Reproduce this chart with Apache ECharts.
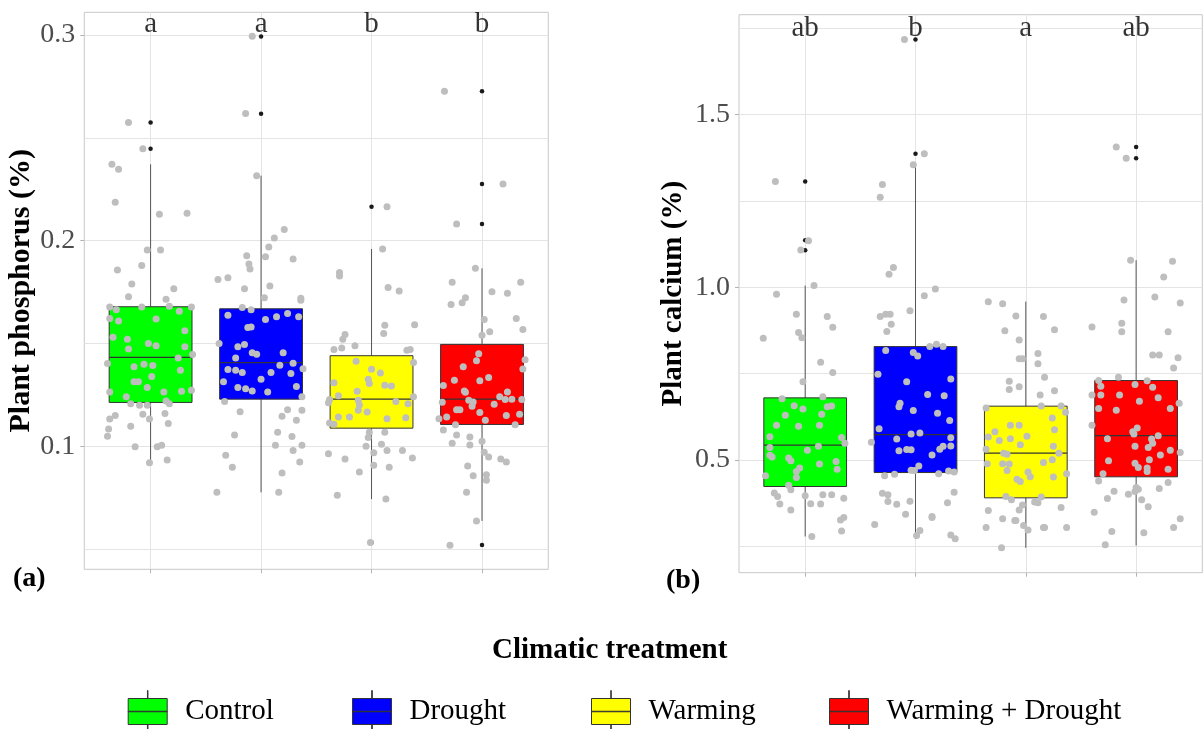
<!DOCTYPE html>
<html>
<head>
<meta charset="utf-8">
<script src="https://cdn.jsdelivr.net/npm/echarts@6/dist/echarts.min.js"></script>
<style>
html, body { margin: 0; padding: 0; background: #fff; }
#chart { width: 1204px; height: 729px; }
</style>
</head>
<body>
<div id="chart"></div>
<script>
var treatments = ['Control', 'Drought', 'Warming', 'Warming + Drought'];
var boxColors = ['#00ff00', '#0000ff', '#ffff00', '#ff0000'];

// [lower whisker, Q1, median, Q3, upper whisker]
var pBoxStats = [
    [0.0921, 0.1214, 0.1433, 0.1679, 0.2371],
    [0.0777, 0.1230, 0.1407, 0.1669, 0.2316],
    [0.0744, 0.1089, 0.1230, 0.1441, 0.1960],
    [0.0638, 0.1107, 0.1230, 0.1496, 0.1866]
];
var caBoxStats = [
    [0.2779, 0.4227, 0.5425, 0.6795, 1.0048],
    [0.2710, 0.4632, 0.5733, 0.8281, 1.3523],
    [0.2450, 0.3899, 0.5194, 0.6555, 0.9585],
    [0.2518, 0.4508, 0.5704, 0.7297, 1.0783]
];
var pOutliers = [[0.2574, 0.2447], [0.2992, 0.2617], [0.2165, 0.0533], [0.2726, 0.2276, 0.2081, 0.0521]];
var caOutliers = [[1.306, 1.136, 1.107], [1.387, 1.718], [], [1.4065, 1.3737]];
var pLetters = ['a', 'a', 'b', 'b'];
var caLetters = ['ab', 'b', 'a', 'ab'];
var pLetterY = 0.3052;
var caLetterY = 1.750;

var pTickLabels = [0.1, 0.2, 0.3];
var pGridLines = [0.05, 0.1, 0.15, 0.2, 0.25, 0.3];
var caTickLabels = [0.5, 1.0, 1.5];
var caGridLines = [0.25, 0.5, 0.75, 1.0, 1.25, 1.5, 1.75];

// jittered raw points: [horizontal jitter, value]
var pCtrlPts = [[-0.20,0.2574],[-0.07,0.2447],[-0.35,0.2371],[-0.29,0.2347],[-0.32,0.2187],[0.08,0.2128],[0.33,0.2133],[-0.03,0.1955],[0.09,0.1955],[-0.30,0.1858],[-0.08,0.1880],[-0.17,0.1789],[-0.20,0.1728],[0.21,0.1767],[0.14,0.1715],
    [-0.37,0.1678],[-0.31,0.1665],[-0.08,0.1678],[0.17,0.1681],[0.26,0.1657],[0.37,0.1678],[-0.37,0.1622],[-0.29,0.1610],[0.05,0.1620],[0.31,0.1562],[-0.34,0.1531],[-0.21,0.1521],[-0.02,0.1500],[0.05,0.1489],[-0.20,0.1474],[0.31,0.1484],[-0.39,0.1403],[0.38,0.1447],[0.25,0.1430],[-0.15,0.1387],[-0.06,0.1400],[0.02,0.1393],[0.27,0.1370],[0.01,0.1340],[-0.15,0.1314],[-0.11,0.1314],[-0.03,0.1286],[-0.37,0.1265],[0.12,0.1265],[0.28,0.1268],[0.37,0.1273],[-0.22,0.1241],[0.14,0.1221],[-0.18,0.1207],[-0.10,0.1200],[-0.03,0.1200],[0.17,0.1208],[-0.07,0.1156],[0.13,0.1160],[-0.37,0.1134],[-0.32,0.1150],[-0.01,0.1134],[0.16,0.1111],[-0.18,0.1098],[-0.38,0.1085],[-0.39,0.1050],[-0.14,0.0998],[0.06,0.0998],[0.10,0.1006],[-0.01,0.0921],[0.15,0.0934]];
var pDrPts = [[-0.08,0.2994],[-0.14,0.2618],[-0.04,0.2316],[0.21,0.2054],[0.12,0.2013],[0.07,0.1969],[-0.13,0.1927],[0.04,0.1922],[0.29,0.1911],[-0.11,0.1887],[-0.10,0.1862],[-0.39,0.1811],[-0.30,0.1820],[-0.15,0.1767],[0.08,0.1780],[0.03,0.1723],[0.36,0.1720],
    [-0.17,0.1675],[-0.09,0.1665],[-0.30,0.1638],[0.04,0.1617],[0.14,0.1630],[0.24,0.1646],[0.34,0.1630],[0.36,0.1711],[-0.12,0.1578],[-0.09,0.1581],[-0.38,0.1500],[-0.21,0.1484],[-0.15,0.1495],[-0.08,0.1455],[-0.04,0.1448],[0.20,0.1455],[-0.23,0.1430],[0.17,0.1395],[0.29,0.1404],[-0.30,0.1374],[-0.23,0.1370],[-0.17,0.1359],[0.09,0.1359],[0.27,0.1354],[0.38,0.1378],[0.00,0.1327],[-0.34,0.1314],[-0.21,0.1286],[-0.14,0.1281],[-0.08,0.1270],[0.06,0.1265],[0.32,0.1291],[0.37,0.1241],[-0.33,0.1218],[-0.19,0.1169],[0.24,0.1179],[0.37,0.1176],[0.19,0.1147],[0.32,0.1127],[0.15,0.1069],[0.28,0.1048],[-0.24,0.1056],[0.13,0.1006],[0.37,0.1006],[0.29,0.0980],[-0.32,0.0957],[0.35,0.0925],[-0.26,0.0899],[0.19,0.0871],[-0.40,0.0777],[0.16,0.0777]];
var pWaPts = [[0.14,0.2165],[0.10,0.1960],[-0.29,0.1846],[-0.29,0.1828],[0.15,0.1772],[0.25,0.1755],
    [0.12,0.1589],[0.11,0.1549],[0.39,0.1592],[-0.24,0.1544],[-0.26,0.1521],[-0.15,0.1490],[-0.34,0.1471],[-0.27,0.1479],[0.32,0.1468],[0.35,0.1471],[0.38,0.1408],[-0.14,0.1414],[0.00,0.1375],[0.08,0.1357],[-0.34,0.1310],[-0.03,0.1327],[-0.02,0.1306],[0.12,0.1297],[0.18,0.1294],[-0.30,0.1246],[-0.13,0.1268],[-0.38,0.1228],[-0.39,0.1213],[-0.12,0.1225],[-0.11,0.1202],[0.22,0.1218],[0.33,0.1208],[0.38,0.1241],[-0.12,0.1176],[-0.04,0.1168],[-0.30,0.1143],[-0.20,0.1143],[0.14,0.1135],[0.31,0.1139],[-0.38,0.1114],[-0.34,0.1108],[-0.02,0.1069],[0.12,0.1069],[-0.03,0.1043],[0.09,0.1011],[-0.05,0.1001],[0.28,0.0980],[0.02,0.0970],[0.14,0.0980],[-0.39,0.0965],[0.37,0.0944],[-0.24,0.0939],[0.02,0.0909],[0.16,0.0899],[-0.11,0.0876],[-0.31,0.0763],[0.13,0.0745],[-0.01,0.0533]];
var pWdPts = [[-0.34,0.2726],[0.19,0.2276],[-0.23,0.2081],[-0.06,0.1866],[-0.27,0.1798],[0.09,0.1752],[0.23,0.1744],[0.35,0.1798],[-0.15,0.1723],
    [-0.28,0.1690],[-0.18,0.1699],[0.02,0.1617],[0.31,0.1622],[0.07,0.1557],[0.00,0.1541],[0.37,0.1568],[-0.03,0.1451],[-0.05,0.1416],[0.39,0.1422],[-0.17,0.1387],[0.37,0.1377],[-0.25,0.1322],[-0.02,0.1319],[0.06,0.1335],[-0.35,0.1296],[-0.16,0.1270],[-0.15,0.1263],[0.23,0.1265],[0.16,0.1241],[0.21,0.1228],[0.27,0.1229],[0.36,0.1228],[-0.12,0.1225],[-0.08,0.1216],[-0.36,0.1215],[-0.09,0.1195],[0.11,0.1205],[-0.23,0.1178],[-0.20,0.1178],[-0.02,0.1165],[0.22,0.1150],[0.34,0.1156],[-0.39,0.1135],[-0.32,0.1143],[0.03,0.1127],[-0.24,0.1106],[0.30,0.1106],[-0.35,0.1080],[-0.23,0.1056],[-0.11,0.1046],[-0.11,0.1007],[-0.27,0.1015],[0.00,0.1025],[0.02,0.0972],[0.06,0.0949],[0.17,0.0939],[0.22,0.0925],[-0.13,0.0905],[-0.08,0.0858],[0.04,0.0863],[0.04,0.0836],[-0.14,0.0777],[-0.05,0.0638],[-0.29,0.0520]];

var caCtrlPts = [[-0.27,1.306],[0.03,1.135],[-0.04,1.108],[0.08,1.005],[-0.26,0.980],[-0.08,0.922],[0.20,0.915],[-0.38,0.852],[-0.06,0.869],[-0.03,0.854],[0.25,0.884],[0.14,0.783],[0.25,0.753],[-0.02,0.726],[-0.21,0.677],[0.16,0.683],[-0.10,0.657],[-0.02,0.647],[0.20,0.654],[0.24,0.656],[-0.18,0.629],[0.15,0.632],[-0.26,0.600],[-0.06,0.597],[0.13,0.600],[-0.32,0.567],[0.33,0.565],[0.36,0.548],[-0.32,0.536],[0.12,0.539],[0.02,0.528],[-0.32,0.513],[-0.30,0.508],[-0.15,0.505],[0.28,0.495],[0.13,0.488],[-0.05,0.476],[-0.13,0.497],[-0.08,0.466],[0.29,0.473],[-0.36,0.454],[-0.08,0.449],[-0.15,0.426],[-0.28,0.404],[-0.25,0.394],[-0.13,0.413],[0.00,0.396],[0.16,0.399],[0.24,0.399],[0.35,0.389],[-0.23,0.372],[0.05,0.373],[0.14,0.372],[-0.13,0.355],[0.32,0.326],[0.35,0.333],[0.33,0.294],[0.06,0.278]];
var caDrPts = [[-0.10,1.718],[0.08,1.387],[-0.02,1.355],[-0.30,1.298],[-0.32,1.261],[-0.20,1.057],[-0.24,1.038],[0.18,0.995],[0.08,0.975],[-0.05,0.932],[-0.32,0.915],[-0.27,0.922],[-0.23,0.922],[-0.22,0.893],[-0.26,0.872],[-0.27,0.817],[0.13,0.828],[0.19,0.835],[0.25,0.828],[-0.02,0.811],[0.02,0.801],[-0.34,0.748],[0.32,0.734],[-0.08,0.726],[0.11,0.689],[0.26,0.686],[-0.14,0.664],[-0.15,0.654],[-0.02,0.643],[0.20,0.635],[0.31,0.614],[-0.33,0.590],[0.04,0.578],[-0.04,0.575],[-0.40,0.551],[-0.17,0.560],[0.32,0.564],[0.32,0.540],[0.25,0.539],[0.22,0.531],[-0.15,0.526],[-0.08,0.530],[-0.04,0.529],[0.15,0.514],[0.03,0.482],[-0.04,0.470],[-0.01,0.469],[0.21,0.460],[0.30,0.468],[0.35,0.465],[-0.28,0.454],[-0.19,0.458],[-0.30,0.403],[-0.25,0.399],[-0.25,0.379],[-0.17,0.371],[-0.05,0.380],[0.29,0.376],[0.35,0.406],[-0.09,0.342],[0.15,0.336],[0.15,0.333],[-0.37,0.313],[0.04,0.295],[0.01,0.281],[0.32,0.282],[0.36,0.271]];
var caWaPts = [[-0.34,0.958],[-0.21,0.952],[-0.09,0.917],[0.16,0.915],[-0.19,0.874],[0.26,0.877],[-0.06,0.847],[0.11,0.808],[-0.06,0.793],[-0.03,0.793],[0.11,0.778],[0.17,0.739],[-0.15,0.728],[-0.15,0.704],[-0.06,0.712],[0.26,0.700],[0.13,0.688],[0.14,0.656],[0.32,0.656],[-0.36,0.650],[0.36,0.638],[0.24,0.621],[-0.14,0.600],[-0.06,0.600],[-0.28,0.581],[0.01,0.568],[0.26,0.587],[-0.34,0.566],[-0.24,0.556],[-0.14,0.561],[-0.05,0.544],[0.25,0.539],[-0.36,0.531],[0.30,0.519],[-0.20,0.519],[-0.17,0.516],[0.24,0.500],[-0.35,0.489],[-0.21,0.489],[-0.15,0.488],[0.16,0.492],[-0.17,0.469],[0.37,0.460],[0.02,0.465],[0.04,0.451],[0.25,0.450],[-0.08,0.444],[-0.05,0.437],[-0.18,0.394],[-0.13,0.384],[0.08,0.378],[0.11,0.376],[0.14,0.392],[-0.03,0.369],[0.32,0.362],[-0.34,0.353],[-0.06,0.355],[-0.21,0.329],[-0.10,0.324],[-0.09,0.324],[-0.36,0.304],[-0.02,0.310],[0.02,0.297],[0.16,0.304],[0.17,0.304],[0.37,0.304],[-0.22,0.245]];
var caWdPts = [[-0.18,1.406],[-0.09,1.374],[-0.05,1.078],[0.33,1.075],[0.25,1.030],[0.17,0.972],[-0.11,0.963],[0.40,0.954],[-0.40,0.885],[-0.13,0.896],[-0.13,0.871],[0.29,0.871],[0.15,0.804],[0.21,0.804],[0.38,0.796],[0.34,0.766],[-0.16,0.739],[-0.34,0.730],[0.10,0.729],[-0.32,0.713],[-0.01,0.718],[0.15,0.710],[-0.40,0.688],[-0.32,0.688],[-0.15,0.688],[0.20,0.680],[0.03,0.670],[0.39,0.664],[-0.34,0.649],[-0.18,0.644],[0.31,0.649],[-0.40,0.600],[-0.03,0.581],[0.01,0.592],[-0.02,0.575],[0.20,0.570],[-0.26,0.561],[0.14,0.560],[0.15,0.548],[-0.01,0.539],[0.11,0.536],[0.31,0.528],[0.40,0.521],[0.22,0.514],[-0.25,0.497],[-0.01,0.490],[0.02,0.478],[0.10,0.476],[0.12,0.500],[0.10,0.466],[0.29,0.473],[-0.30,0.460],[-0.34,0.439],[0.00,0.420],[0.02,0.415],[-0.01,0.408],[-0.20,0.409],[-0.07,0.400],[0.21,0.417],[0.29,0.434],[-0.26,0.388],[0.05,0.384],[0.11,0.364],[-0.38,0.348],[0.40,0.329],[0.34,0.304],[-0.22,0.292],[0.07,0.289],[-0.28,0.254]];

var pPoints = [pCtrlPts, pDrPts, pWaPts, pWdPts];
var caPoints = [caCtrlPts, caDrPts, caWaPts, caWdPts];

var FONT = '"Liberation Serif", "Times New Roman", serif';
var GRID_COLOR = '#e4e4e4';
var TICK_COLOR = '#b3b3b3';

function renderBox(params, api) {
    var x = api.value(0);
    var lo = api.coord([x, api.value(1)]);
    var q1 = api.coord([x, api.value(2)]);
    var md = api.coord([x, api.value(3)]);
    var q3 = api.coord([x, api.value(4)]);
    var hi = api.coord([x, api.value(5)]);
    var w = api.size([0.75, 0])[0];
    return {
        type: 'group',
        children: [
            {type: 'line', shape: {x1: hi[0], y1: hi[1], x2: q3[0], y2: q3[1]}, style: {stroke: '#555', lineWidth: 1}},
            {type: 'line', shape: {x1: q1[0], y1: q1[1], x2: lo[0], y2: lo[1]}, style: {stroke: '#555', lineWidth: 1}},
            {type: 'rect', shape: {x: q3[0] - w / 2, y: q3[1], width: w, height: q1[1] - q3[1]},
                style: {fill: api.visual('color'), stroke: '#333', lineWidth: 1}},
            {type: 'line', shape: {x1: md[0] - w / 2, y1: md[1], x2: md[0] + w / 2, y2: md[1]}, style: {stroke: '#333', lineWidth: 1.3}}
        ]
    };
}

function panelAxes(g, min, max, tickVals, gridVals, title, nameGap, nameSize) {
    var x = {
        type: 'value', gridIndex: g, min: 0.4, max: 4.6,
        axisLine: {show: false},
        axisTick: {show: true, customValues: [1, 2, 3, 4], length: 4, lineStyle: {color: TICK_COLOR}},
        axisLabel: {show: false},
        splitLine: {show: true, lineStyle: {color: GRID_COLOR, width: 1}}
    };
    var y = {
        type: 'value', gridIndex: g, min: min, max: max, position: 'left',
        name: title, nameLocation: 'middle', nameGap: nameGap,
        nameTextStyle: {fontFamily: FONT, fontSize: nameSize, fontWeight: 'bold', color: '#000'},
        axisLine: {show: false},
        axisTick: {show: false, customValues: gridVals},
        axisLabel: {customValues: tickVals, margin: 9, fontFamily: FONT, fontSize: 28, color: '#4d4d4d',
            formatter: function (v) { return v.toFixed(1); }},
        splitLine: {show: true, lineStyle: {color: GRID_COLOR, width: 1}}
    };
    var yTicks = {
        type: 'value', gridIndex: g, min: min, max: max, position: 'left', offset: 0,
        axisLine: {show: false},
        axisTick: {show: true, customValues: tickVals, length: 4, lineStyle: {color: TICK_COLOR}},
        axisLabel: {show: false},
        splitLine: {show: false}
    };
    return {x: x, y: [y, yTicks]};
}

function panelSeries(g, yIdx, stats, outliers, points, letters, letterY) {
    var out = [];
    treatments.forEach(function (name, i) {
        out.push({
            name: name, type: 'custom', xAxisIndex: g, yAxisIndex: yIdx, z: 2,
            itemStyle: {color: boxColors[i]},
            encode: {x: 0, y: [1, 2, 3, 4, 5]},
            renderItem: renderBox,
            data: [[i + 1].concat(stats[i])]
        });
    });
    var outData = [];
    outliers.forEach(function (vals, i) {
        vals.forEach(function (v) { outData.push([i + 1, v]); });
    });
    out.push({
        type: 'scatter', xAxisIndex: g, yAxisIndex: yIdx, z: 3, silent: true,
        symbolSize: 4.5, itemStyle: {color: '#1a1a1a', opacity: 1},
        data: outData
    });
    var jit = [];
    points.forEach(function (pts, i) {
        pts.forEach(function (p) { jit.push([i + 1 + p[0], p[1]]); });
    });
    out.push({
        type: 'scatter', xAxisIndex: g, yAxisIndex: yIdx, z: 4, silent: true,
        symbolSize: 7, itemStyle: {color: '#bebebe', opacity: 1},
        data: jit
    });
    out.push({
        type: 'scatter', xAxisIndex: g, yAxisIndex: yIdx, z: 5, silent: true,
        symbolSize: 0,
        label: {show: true, position: 'inside', formatter: '{b}', fontFamily: FONT, fontSize: 29, color: '#000'},
        data: letters.map(function (l, i) { return {name: l, value: [i + 1, letterY]}; })
    });
    return out;
}

var pAxes = panelAxes(0, 0.0403, 0.3110, pTickLabels, pGridLines, 'Plant phosphorus (%)', 47, 30);
var caAxes = panelAxes(1, 0.1730, 1.7896, caTickLabels, caGridLines, 'Plant calcium (%)', 51, 29);

var legendIcon = 'path://M0,8h39v26h-39z M0,20.75h39v0.5h-39z M19.25,0h0.5v8h-0.5z M19.25,34h0.5v8h-0.5z';
var legendLefts = [127.7, 352, 591, 829];

var option = {
    animation: false,
    backgroundColor: '#fff',
    title: [
        {text: '(a)', left: 13, top: 565, padding: 0, textStyle: {fontFamily: FONT, fontSize: 28, fontWeight: 'bold', color: '#000'}},
        {text: '(b)', left: 666, top: 567, padding: 0, textStyle: {fontFamily: FONT, fontSize: 28, fontWeight: 'bold', color: '#000'}},
        {text: 'Climatic treatment', left: 492, top: 636, padding: 0, textStyle: {fontFamily: FONT, fontSize: 29, fontWeight: 'bold', color: '#000'}}
    ],
    legend: treatments.map(function (name, i) {
        return {
            data: [name], left: legendLefts[i], top: 690, padding: 0,
            selectedMode: false, icon: legendIcon, itemWidth: 39, itemHeight: 42,
            itemStyle: {borderColor: '#333', borderWidth: 1},
            textStyle: {fontFamily: FONT, fontSize: 29, color: '#000', padding: [0, 0, 0, 13]}
        };
    }),
    grid: [
        {left: 84.3, top: 12.3, width: 464, height: 557, show: true, borderColor: '#c8c8c8', borderWidth: 1,
            containLabel: false, outerBoundsMode: 'none'},
        {left: 739, top: 14.7, width: 463.3, height: 558, show: true, borderColor: '#c8c8c8', borderWidth: 1,
            containLabel: false, outerBoundsMode: 'none'}
    ],
    xAxis: [pAxes.x, caAxes.x],
    yAxis: pAxes.y.concat(caAxes.y),
    series: panelSeries(0, 0, pBoxStats, pOutliers, pPoints, pLetters, pLetterY)
        .concat(panelSeries(1, 2, caBoxStats, caOutliers, caPoints, caLetters, caLetterY))
};

var chart = echarts.init(document.getElementById('chart'));
chart.setOption(option);
</script>
</body>
</html>
